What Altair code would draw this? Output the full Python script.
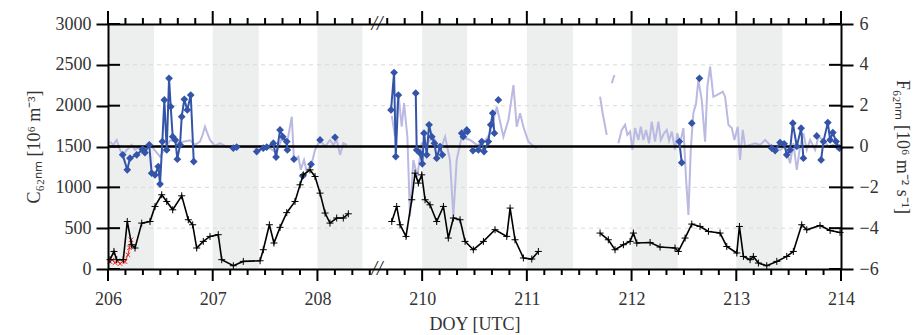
import altair as alt
import pandas as pd

# ---------------- data (DOY) ----------------
night_start = [206.0, 207.0, 208.0, 210.0, 211.0, 212.0, 213.0]
night_end = [206.44, 207.44, 208.43, 210.43, 211.44, 212.44, 213.44]

# particle concentration C62nm [1e6 m-3] (black, + markers)
c_doy = [206.019, 206.057, 206.083, 206.146, 206.184, 206.226, 206.258, 206.322, 206.401, 206.449,
         206.513, 206.561, 206.618, 206.704, 206.767, 206.809, 206.847, 206.910, 206.974, 207.053,
         207.086, 207.197, 207.292, 207.452, 207.483, 207.541, 207.585, 207.643, 207.707, 207.786,
         207.834, 207.865, 207.929, 207.977, 208.025, 208.073, 208.120, 208.184, 208.247, 208.295,
         209.710, 209.757, 209.789, 209.846, 209.901, 209.932, 209.964, 209.996, 210.028, 210.075,
         210.139, 210.203, 210.250, 210.298, 210.362, 210.410, 210.489, 210.585, 210.696, 210.808,
         210.840, 210.887, 210.967, 211.047, 211.110,
         211.699, 211.778, 211.842, 211.922, 211.986, 212.017, 212.050, 212.177, 212.272, 212.415,
         212.447, 212.511, 212.575, 212.654, 212.734, 212.845, 212.909, 213.005, 213.030, 213.068,
         213.132, 213.163, 213.211, 213.291, 213.387, 213.482, 213.545, 213.625, 213.673, 213.800,
         213.896, 213.991]
c_val = [114, 215, 114, 114, 582, 297, 257, 562, 582, 766,
         909, 827, 725, 896, 603, 542, 257, 338, 399, 420,
         114, 40, 93, 101, 236, 542, 318, 510, 690, 827,
         1031, 1153, 1214, 1133, 929, 685, 562, 624, 624, 676,
         582, 766, 542, 399, 848, 1174, 1052, 1153, 848, 786,
         582, 766, 379, 624, 603, 338, 236, 338, 481, 399,
         746, 358, 135, 122, 215,
         440, 358, 236, 297, 338, 440, 318, 325, 269, 257,
         215, 379, 550, 521, 460, 440, 276, 196, 521, 154,
         114, 154, 73, 40, 93, 154, 215, 542, 481, 533,
         472, 448]

# second concentration estimate (red, x markers)
red_doy = [206.019, 206.040, 206.067, 206.090, 206.115, 206.140, 206.162, 206.191, 206.205, 206.220]
red_val = [90, 110, 77, 100, 65, 95, 90, 175, 260, 358]

# flux F62nm [1e6 m-2 s-1], selected periods (blue diamonds)
f_doy = [206.140, 206.184, 206.210, 206.274, 206.331, 206.353, 206.394, 206.417, 206.449, 206.480,
         206.497, 206.519, 206.538, 206.561, 206.583, 206.599, 206.618, 206.643, 206.662, 206.688,
         206.704, 206.729, 206.757, 206.790, 206.819,
         207.197, 207.229,
         207.420, 207.483, 207.516, 207.579, 207.605, 207.643, 207.669, 207.707, 207.713,
         207.776, 207.860, 207.939, 208.025, 208.168,
         209.703, 209.732, 209.748, 209.773,
         209.939, 209.948, 209.980, 210.002, 210.018, 210.044, 210.066, 210.092, 210.117, 210.139,
         210.171, 210.193,
         210.378, 210.393, 210.426, 210.432,
         210.485, 210.537, 210.569, 210.591, 210.632, 210.655, 210.674, 210.690,
         210.728,
         212.456, 212.479, 212.575, 212.648,
         213.339, 213.371, 213.418, 213.457, 213.482, 213.514, 213.540, 213.578, 213.619, 213.641,
         213.768,
         213.810, 213.832, 213.874, 213.896, 213.922, 213.953, 213.985]
f_val = [-0.41, -1.14, -0.57, -0.41, -0.13, -0.30, 0.08, -1.31, -1.39, -0.98,
         -1.84, 0.24, 2.28, -0.17, 3.34, 1.95, 0.48, 0.32, -0.62, 0.08,
         1.46, 2.31, 1.79, 2.52, -0.74,
         -0.08, -0.03,
         -0.25, -0.08, -0.03, 0.16, -0.52, 0.81, 0.48, 0.24, -0.17,
         -0.62, -1.44, -0.87, 0.32, 0.45,
         1.79, 3.62, -0.49, 2.52,
         2.61, -0.17, -0.33, -0.85, 0.65, -0.41, 1.06, 0.48, 0.16, -0.57,
         0.00, -0.41,
         0.65, 0.48, 0.81, 0.73,
         -0.20, -0.17, 0.24, -0.25, 0.24, 1.06, 1.63, 0.65,
         2.28,
         0.24, -0.79, 1.14, 3.34,
         -0.08, -0.20, 0.19, 0.13, -0.41, -0.17, 1.14, 0.00, 0.90, -0.57,
         0.52,
         -0.66, 0.24, 1.17, 0.32, 0.68, 0.24, -0.08]
f_seg = [0] * 25 + [1] * 2 + [2] * 9 + [3, 4, 5, 6, 7] + [8] * 4 + [9] * 12 + [10] * 4 + [11] * 8 + [12] \
        + [13] * 2 + [14, 15] + [16] * 10 + [17] + [18] * 7

# flux, full record (light purple line)
p_doy = [206.019, 206.051, 206.083, 206.115, 206.146, 206.179, 206.226, 206.258, 206.289, 206.322,
         206.401, 206.497, 206.592, 206.688, 206.783, 206.831, 206.879, 206.905, 206.926, 206.945,
         206.974, 207.022, 207.070, 207.134, 207.197, 207.292, 207.388, 207.452, 207.516, 207.611,
         207.659, 207.707, 207.755, 207.776, 207.818, 207.841, 207.872, 207.898, 207.946, 207.977,
         208.025, 208.073, 208.120, 208.152, 208.184, 208.216, 208.247, 208.280,
         209.710, 209.741, 209.773, 209.805, 209.827, 209.859, 209.884, 209.916, 209.954, 209.996,
         210.044, 210.107, 210.171, 210.219, 210.266, 210.298, 210.330, 210.378, 210.457, 210.521,
         210.585, 210.649, 210.713, 210.776, 210.824, 210.872, 210.903, 210.935, 210.967, 211.014,
         211.062, 211.094,
         211.699, 211.724, 211.763,
         211.811, 211.836,
         211.874, 211.906, 211.938, 211.960, 211.986, 212.008, 212.033, 212.065, 212.088, 212.113,
         212.138, 212.167, 212.193, 212.224, 212.256, 212.279, 212.310, 212.336, 212.358, 212.384,
         212.415, 212.437, 212.463, 212.495, 212.521, 212.543, 212.565, 212.590, 212.616, 212.638,
         212.670, 212.702, 212.724, 212.750, 212.781, 212.814, 212.871, 212.893, 212.925, 212.957,
         212.982, 213.014, 213.036, 213.062, 213.084, 213.132, 213.180, 213.227, 213.275, 213.323,
         213.371, 213.418, 213.466, 213.514, 213.545, 213.578, 213.609, 213.641, 213.673, 213.705,
         213.753, 213.784, 213.832, 213.880, 213.927, 213.975]
p_val = [0.24, 0.08, 0.32, -0.17, -0.41, -0.17, 0.08, -0.17, -0.03, -0.30,
         0.10, -0.50, 0.30, 0.20, 0.30, 0.08, 0.24, 0.60, 0.97, 0.70,
         0.32, 0.03, 0.16, -0.03, -0.03, -0.03, -0.03, -0.17, 0.00, -0.30,
         0.40, 0.08, 1.46, -0.66, -0.49, -1.14, -0.66, -1.23, -0.82, -0.17,
         0.32, 0.00, 0.32, 0.08, 0.32, -0.41, 0.16, 0.08,
         1.50, 0.50, 2.61, 0.97, 2.12, 0.48, -3.43, -0.66, -1.47, 0.16,
         0.16, 0.48, -0.25, 0.48, -0.66, -3.43, -0.66, 0.48, 0.32, 0.08,
         0.16, 0.65, 1.95, 0.48, 1.30, 3.01, 0.97, 1.63, 0.97, 0.24,
         0.03, -0.08,
         2.44, 1.63, 0.57,
         3.10, 3.50,
         0.16, 0.81, 1.06, 0.57, 0.73, -0.17, 0.90, 0.32, 0.97, 0.32,
         0.81, 0.16, 1.22, 0.24, 1.22, 0.32, 0.65, 0.81, 0.29, 0.73,
         -0.17, 0.65, 0.16, 0.90, -1.63, -3.35, -0.17, 1.63, 2.12, 3.26,
         2.28, 0.24, 2.93, 3.91, 2.44, 2.52, 2.69, 2.44, 1.06, 0.90,
         0.32, 0.97, -0.66, 0.81, 0.00, 0.08, 0.16, 0.08, 0.32, 0.08,
         -0.08, -0.17, 0.00, -0.82, 0.16, -1.14, 0.00, 0.65, -0.17, 0.32,
         -0.17, 0.48, 0.32, 0.00, 0.08, -0.17]
p_seg = [0] * 48 + [1] * 32 + [2] * 3 + [3] * 2 + [4] * 66

# axis values
c_ticks = [0, 500, 1000, 1500, 2000, 2500, 3000]
c_grid = [500, 1000, 1500, 2000, 2500]
f_ticks = [-6, -4, -2, 0, 2, 4, 6]
f_zero = [0]
x_major = [206, 207, 208, 209, 210, 211, 212, 213]          # plotted positions of day ticks
x_minor = [206 + k / 6 for k in range(43) if k % 6 != 0]   # 4-hour ticks
break_pos = [208.57]     # plotted position of the axis break
break_c = [0, 3000]

# ---------------- frames ----------------
XP = "datum.doy > 209 ? datum.doy - 1 : datum.doy"

c_df = pd.DataFrame({"doy": c_doy, "C": c_val})
c_df["seg"] = (c_df["doy"].diff() > 0.3).cumsum()
red_df = pd.DataFrame({"doy": red_doy, "C": red_val})
f_df = pd.DataFrame({"doy": f_doy, "F": f_val, "seg": f_seg})
p_df = pd.DataFrame({"doy": p_doy, "F": p_val, "seg": p_seg})
n_df = pd.DataFrame({"s": night_start, "e": night_end})
br_df = pd.DataFrame({"xp": break_pos * len(break_c), "C": break_c})
maj_df = pd.DataFrame({"xp": x_major})
min_df = pd.DataFrame({"xp": x_minor})

xs = alt.Scale(domain=[206, 213], nice=False, zero=False)
cs = alt.Scale(domain=[0, 3000], nice=False, zero=False)
fs = alt.Scale(domain=[-6, 6], nice=False, zero=False)

FONT = "Liberation Serif"
TXT = "#333333"

bottom_axis = alt.Axis(
    values=x_major, title="DOY [UTC]", orient="bottom",
    labelExpr="'' + (datum.value > 208.6 ? round(datum.value) + 1 : round(datum.value))",
    labelOverlap=False, labelFlush=False, labelBound=False,
    ticks=False, domainColor="black", domainWidth=2,
    labelPadding=21, titlePadding=7, grid=False, zindex=2,
)
top_axis = alt.Axis(
    values=x_major, title=None, orient="top", labels=False, ticks=False,
    domainColor="black", domainWidth=2, grid=False, zindex=2,
)
left_axis = alt.Axis(
    values=c_ticks, format="d", title="C₆₂ₙₘ [10⁶ m⁻³]", orient="left", tickSize=12, tickWidth=2,
    tickColor="black", domainColor="black", domainWidth=2, labelPadding=5,
    titlePadding=12, grid=False, zindex=2,
)
right_axis = alt.Axis(
    values=f_ticks, format="d", title="F₆₂ₙₘ [10⁶ m⁻² s⁻¹]", orient="right", tickSize=12, tickWidth=2,
    tickColor="black", domainColor="black", domainWidth=2, labelPadding=6,
    titlePadding=14, grid=False, zindex=2,
)

# night shading (carries the top axis)
shade = alt.Chart(n_df).transform_calculate(
    xs_="datum.s > 209 ? datum.s - 1 : datum.s",
    xe_="datum.e > 209 ? datum.e - 1 : datum.e",
).mark_rect(color="#edefee").encode(
    x=alt.X("xs_:Q", scale=xs, axis=top_axis),
    x2="xe_:Q",
)

grid = alt.Chart(pd.DataFrame({"C": c_grid})).mark_rule(
    color="#d9d9d9", strokeDash=[4, 4], strokeWidth=1
).encode(y=alt.Y("C:Q", scale=cs, axis=None))

purple = alt.Chart(p_df).transform_calculate(xp=XP).mark_line(
    color="#b9b9e2", strokeWidth=2
).encode(
    x=alt.X("xp:Q", scale=xs, axis=None),
    y=alt.Y("F:Q", scale=fs, axis=None),
    detail="seg:N", order="doy:Q",
)

zero = alt.Chart(pd.DataFrame({"F": f_zero})).mark_rule(
    color="black", strokeWidth=2.5
).encode(y=alt.Y("F:Q", scale=fs, axis=None))

blue = alt.Chart(f_df).transform_calculate(xp=XP).mark_line(
    color="#3354a8", strokeWidth=2,
    point=alt.OverlayMarkDef(shape="diamond", filled=True, size=60, color="#3354a8"),
).encode(
    x=alt.X("xp:Q", scale=xs, axis=None),
    y=alt.Y("F:Q", scale=fs, axis=right_axis),
    detail="seg:N", order="doy:Q",
)

red = alt.Chart(red_df).transform_calculate(xp=XP).mark_line(
    color="#e8231f", strokeWidth=1,
    point=alt.OverlayMarkDef(shape="M-1,-1L1,1M-1,1L1,-1", filled=False, size=20,
                             stroke="#e8231f", strokeWidth=1),
).encode(
    x=alt.X("xp:Q", scale=xs, axis=None),
    y=alt.Y("C:Q", scale=cs, axis=None),
    order="doy:Q",
)

black = alt.Chart(c_df).transform_calculate(xp=XP).mark_line(
    color="black", strokeWidth=1.6,
    point=alt.OverlayMarkDef(shape="M-1,0L1,0M0,-1L0,1", filled=False, size=49,
                             stroke="black", strokeWidth=1),
).encode(
    x=alt.X("xp:Q", scale=xs, axis=bottom_axis),
    y=alt.Y("C:Q", scale=cs, axis=left_axis),
    detail="seg:N", order="doy:Q",
)

# inner halves of the y ticks
in_left = alt.Chart(pd.DataFrame({"C": c_ticks})).mark_rule(color="black", strokeWidth=2).encode(
    y=alt.Y("C:Q", scale=cs, axis=None), x=alt.value(0), x2=alt.value(12))
in_right = alt.Chart(pd.DataFrame({"F": f_ticks})).mark_rule(color="black", strokeWidth=2).encode(
    y=alt.Y("F:Q", scale=fs, axis=None), x=alt.value(721), x2=alt.value(733))

# x ticks: bottom (downward) and top (upward)
def xtick(df, y0, y1):
    return alt.Chart(df).mark_rule(color="black", strokeWidth=2).encode(
        x=alt.X("xp:Q", scale=xs, axis=None), y=alt.value(y0), y2=alt.value(y1))

bt_major = xtick(maj_df, 245, 257)
bt_minor = xtick(min_df, 245, 251)
tp_major = xtick(maj_df, 0, -13)
tp_minor = xtick(min_df, 0, -6)

brk = alt.Chart(br_df).mark_text(
    text="//", font=FONT, fontSize=20, fontStyle="italic", color="#222", baseline="middle"
).encode(
    x=alt.X("xp:Q", scale=xs, axis=None),
    y=alt.Y("C:Q", scale=cs, axis=None),
)

chart = alt.layer(
    shade, grid, purple, zero, blue, red, black, in_left, in_right,
    bt_major, bt_minor, tp_major, tp_minor, brk
).resolve_scale(y="independent").resolve_axis(x="independent", y="independent").properties(
    width=733, height=245,
    padding={"left": 108, "top": 24, "right": 72, "bottom": 66},
    autosize=alt.AutoSizeParams(type="none"),
    background="white",
).configure_view(stroke=None).configure_axis(
    labelFont=FONT, titleFont=FONT, labelFontSize=18, titleFontSize=18,
    labelColor=TXT, titleColor=TXT, titleFontWeight="normal",
)

chart.save("out.html", embed_options={"renderer": "svg", "actions": False})
